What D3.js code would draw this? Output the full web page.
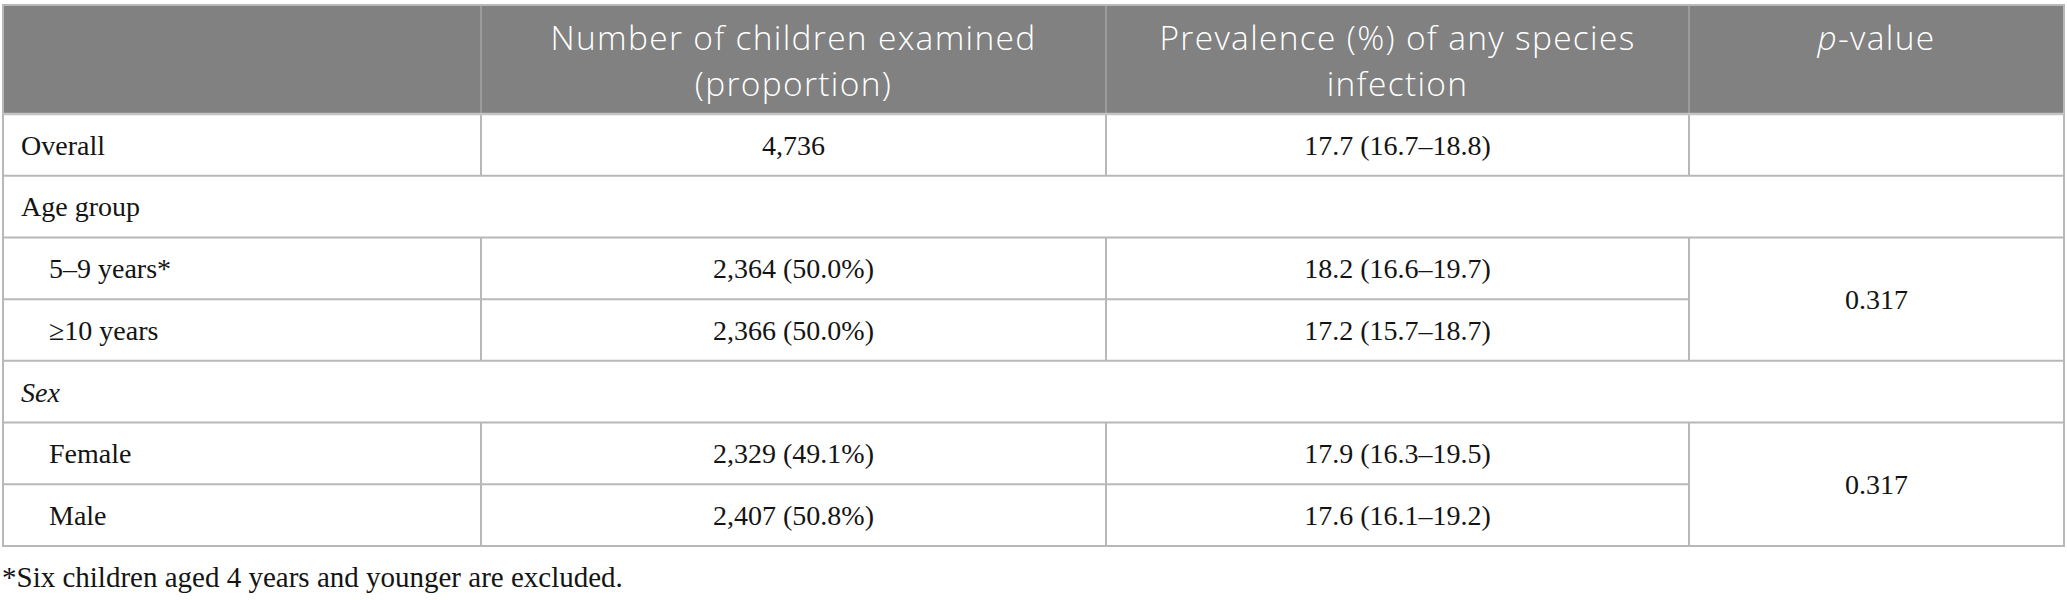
<!DOCTYPE html>
<html>
<head>
<meta charset="utf-8">
<script src="https://cdn.jsdelivr.net/npm/d3@7"></script>
<style>
  body { margin: 0; background: #fff; }
</style>
</head>
<body>
<div id="table"></div>
<script>
// Table data

let header_lines = [
    [],
    ['Number of children examined', '(proportion)'],
    ['Prevalence (%) of any species', 'infection'],
    ['p-value']
];

let row_labels = ['Overall', 'Age group', '5–9 years*', '≥10 years', 'Sex', 'Female', 'Male'];
let row_kind = ['row', 'section', 'sub', 'sub', 'section-italic', 'sub', 'sub'];
let examined = ['4,736', '', '2,364 (50.0%)', '2,366 (50.0%)', '', '2,329 (49.1%)', '2,407 (50.8%)'];
let prevalence = ['17.7 (16.7–18.8)', '', '18.2 (16.6–19.7)', '17.2 (15.7–18.7)', '', '17.9 (16.3–19.5)', '17.6 (16.1–19.2)'];
// p-values merged over two rows: [first row, last row, text]
let p_values = [[2, 3, '0.317'], [5, 6, '0.317']];
let footnote = '*Six children aged 4 years and younger are excluded.';

let width = 2067;
let height = 600;
let left = 3, right = 2064;
let head_top = 5, head_bottom = 114, table_bottom = 546;
let col_edges = [left, 481, 1106, 1689, right];

let svg = d3.select('#table')
    .append('svg')
    .attr('width', width)
    .attr('height', height);

// scales for rows and columns
let y_scale = d3.scaleBand()
    .domain(d3.range(row_labels.length))
    .range([head_bottom, table_bottom]);

let x_scale = d3.scaleOrdinal()
    .domain(d3.range(4))
    .range(col_edges.slice(0, 4));

let col_mid = i => (col_edges[i] + col_edges[i + 1]) / 2;

let serif = '"Liberation Serif", "Times New Roman", serif';
let sans = '"Open Sans", "Noto Sans", sans-serif';
let line_color = '#b8b8b8';

// Header
svg.append('rect')
    .attr('x', left)
    .attr('y', head_top)
    .attr('width', right - left)
    .attr('height', head_bottom - head_top)
    .attr('fill', '#808180');

svg.append('g').selectAll('line')
    .data([1, 2, 3])
    .enter()
    .append('line')
    .attr('x1', d => x_scale(d))
    .attr('x2', d => x_scale(d))
    .attr('y1', head_top)
    .attr('y2', head_bottom)
    .attr('stroke', '#a4a4a4')
    .attr('stroke-width', 1.5);

let head_g = svg.append('g')
    .attr('font-family', sans)
    .attr('font-size', 33.5)
    .attr('font-weight', 300)
    .attr('letter-spacing', 1.3)
    .attr('fill', '#fff')
    .attr('text-anchor', 'middle');

header_lines.forEach((lines, i) => {
    lines.forEach((t, j) => {
        let txt = head_g.append('text')
            .attr('x', col_mid(i))
            .attr('y', 50 + j * 46);
        if (t === 'p-value') {
            txt.append('tspan').attr('font-style', 'italic').text('p');
            txt.append('tspan').text('-value');
        } else {
            txt.text(t);
        }
    });
});

// Grid lines
let in_group = i => p_values.some(p => i >= p[0] && i < p[1]);
let boundaries = d3.range(1, row_labels.length);

svg.append('g').selectAll('line')
    .data(boundaries)
    .enter()
    .append('line')
    .attr('x1', left)
    .attr('x2', d => in_group(d - 1) ? col_edges[3] : right)
    .attr('y1', d => y_scale(d))
    .attr('y2', d => y_scale(d))
    .attr('stroke', line_color)
    .attr('stroke-width', 2);

// vertical lines of ordinary rows
let plain_rows = d3.range(row_labels.length).filter(i => !row_kind[i].startsWith('section'));
svg.append('g').selectAll('line')
    .data(d3.cross(plain_rows, [1, 2, 3]))
    .enter()
    .append('line')
    .attr('x1', d => x_scale(d[1]))
    .attr('x2', d => x_scale(d[1]))
    .attr('y1', d => y_scale(d[0]))
    .attr('y2', d => y_scale(d[0]) + y_scale.bandwidth())
    .attr('stroke', line_color)
    .attr('stroke-width', 2);

// outer frame
svg.append('rect')
    .attr('x', left)
    .attr('y', head_top)
    .attr('width', right - left)
    .attr('height', table_bottom - head_top)
    .attr('fill', 'none')
    .attr('stroke', line_color)
    .attr('stroke-width', 2);

svg.append('line')
    .attr('x1', left).attr('x2', right)
    .attr('y1', head_bottom).attr('y2', head_bottom)
    .attr('stroke', '#c4c4c4')
    .attr('stroke-width', 2.5);

// Body text
let body_g = svg.append('g')
    .attr('font-family', serif)
    .attr('font-size', 28)
    .attr('fill', '#141414');

body_g.selectAll('text.label')
    .data(row_labels)
    .enter()
    .append('text')
    .attr('class', 'label')
    .attr('x', (d, i) => row_kind[i] === 'sub' ? 49 : 21)
    .attr('y', (d, i) => y_scale(i) + y_scale.bandwidth() / 2)
    .attr('dy', '0.35em')
    .attr('font-style', (d, i) => row_kind[i] === 'section-italic' ? 'italic' : 'normal')
    .text(d => d);

body_g.selectAll('text.exam')
    .data(examined)
    .enter()
    .append('text')
    .attr('class', 'exam')
    .attr('x', col_mid(1))
    .attr('y', (d, i) => y_scale(i) + y_scale.bandwidth() / 2)
    .attr('dy', '0.35em')
    .attr('text-anchor', 'middle')
    .text(d => d);

body_g.selectAll('text.prev')
    .data(prevalence)
    .enter()
    .append('text')
    .attr('class', 'prev')
    .attr('x', col_mid(2))
    .attr('y', (d, i) => y_scale(i) + y_scale.bandwidth() / 2)
    .attr('dy', '0.35em')
    .attr('text-anchor', 'middle')
    .text(d => d);

body_g.selectAll('text.pval')
    .data(p_values)
    .enter()
    .append('text')
    .attr('class', 'pval')
    .attr('x', col_mid(3))
    .attr('y', d => (y_scale(d[0]) + y_scale(d[1]) + y_scale.bandwidth()) / 2)
    .attr('dy', '0.35em')
    .attr('text-anchor', 'middle')
    .text(d => d[2]);

// Footnote
svg.append('text')
    .attr('x', 2)
    .attr('y', 587)
    .attr('font-family', serif)
    .attr('font-size', 29)
    .attr('fill', '#141414')
    .text(footnote);
</script>
</body>
</html>
